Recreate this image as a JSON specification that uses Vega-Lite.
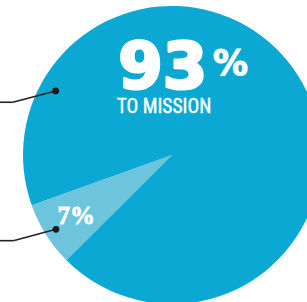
{
  "$schema": "https://vega.github.io/schema/vega-lite/v6.json",
  "width": 307,
  "height": 302,
  "autosize": {"type": "none"},
  "padding": 0,
  "background": "white",
  "config": {"view": {"stroke": null}},
  "data": {
    "values": [
      {"segment": "Other", "value": 7, "label": "7%", "caption": ""},
      {"segment": "To mission", "value": 93, "label": "93", "caption": "TO MISSION"}
    ]
  },
  "layer": [
    {
      "mark": {"type": "arc", "radius": 149},
      "encoding": {
        "theta": {"field": "value", "type": "quantitative", "stack": true, "scale": {"range": [3.929, 10.212]}},
        "order": {"field": "value", "type": "quantitative", "sort": "ascending"},
        "color": {"field": "segment", "type": "nominal", "scale": {"domain": ["Other", "To mission"], "range": ["#6cc5dd", "#0ba8d3"]}, "legend": null},
        "x": {"datum": 0, "type": "quantitative", "scale": {"domain": [-1.1544, 0.906], "nice": false, "zero": false}, "axis": null},
        "y": {"datum": 0, "type": "quantitative", "scale": {"domain": [-0.9866, 1.0403], "nice": false, "zero": false}, "axis": null}
      }
    },
    {
      "transform": [{"filter": "datum.segment === 'To mission'"}],
      "mark": {"type": "text", "font": "DejaVu Sans", "fontWeight": "bold", "fontSize": 64, "color": "white", "stroke": "white", "strokeWidth": 3, "strokeJoin": "round", "align": "center", "baseline": "alphabetic"},
      "encoding": {
        "text": {"field": "label"},
        "x": {"datum": -0.062, "type": "quantitative"},
        "y": {"datum": 0.448, "type": "quantitative"}
      }
    },
    {
      "transform": [{"filter": "datum.segment === 'To mission'"}],
      "mark": {"type": "text", "font": "DejaVu Sans", "fontWeight": "bold", "fontSize": 35, "color": "white", "stroke": "white", "strokeWidth": 1, "align": "center", "baseline": "alphabetic"},
      "encoding": {
        "text": {"value": "%"},
        "x": {"datum": 0.392, "type": "quantitative"},
        "y": {"datum": 0.537, "type": "quantitative"}
      }
    },
    {
      "transform": [{"filter": "datum.segment === 'To mission'"}],
      "mark": {"type": "text", "font": "'Liberation Sans Narrow', 'Roboto Condensed', 'Liberation Sans'", "fontSize": 19.5, "color": "white", "stroke": "white", "strokeWidth": 0.4, "align": "center", "baseline": "alphabetic"},
      "encoding": {
        "text": {"field": "caption"},
        "x": {"datum": -0.054, "type": "quantitative"},
        "y": {"datum": 0.28, "type": "quantitative"}
      }
    },
    {
      "transform": [{"filter": "datum.segment === 'Other'"}],
      "mark": {"type": "text", "font": "'Liberation Serif'", "fontWeight": "bold", "fontSize": 25, "color": "white", "stroke": "white", "strokeWidth": 0.8, "align": "center", "baseline": "alphabetic"},
      "encoding": {
        "text": {"field": "label"},
        "x": {"datum": -0.642, "type": "quantitative"},
        "y": {"datum": -0.465, "type": "quantitative"}
      }
    },
    {
      "transform": [{"filter": "datum.segment === 'To mission'"}],
      "mark": {"type": "rule", "color": "#222222", "strokeWidth": 1.6},
      "encoding": {
        "x": {"datum": -1.16, "type": "quantitative"},
        "x2": {"datum": -1.069},
        "y": {"datum": 0.354, "type": "quantitative"},
        "y2": {"datum": 0.354}
      }
    },
    {
      "transform": [{"filter": "datum.segment === 'To mission'"}],
      "mark": {"type": "rule", "color": "#222222", "strokeWidth": 1.6},
      "encoding": {
        "x": {"datum": -1.069, "type": "quantitative"},
        "x2": {"datum": -0.781},
        "y": {"datum": 0.354, "type": "quantitative"},
        "y2": {"datum": 0.43}
      }
    },
    {
      "transform": [{"filter": "datum.segment === 'To mission'"}],
      "mark": {"type": "point", "filled": true, "color": "#1a1a1a", "opacity": 1, "size": 45},
      "encoding": {
        "x": {"datum": -0.781, "type": "quantitative"},
        "y": {"datum": 0.43, "type": "quantitative"}
      }
    },
    {
      "transform": [{"filter": "datum.segment === 'Other'"}],
      "mark": {"type": "rule", "color": "#222222", "strokeWidth": 1.6},
      "encoding": {
        "x": {"datum": -1.16, "type": "quantitative"},
        "x2": {"datum": -1.065},
        "y": {"datum": -0.575, "type": "quantitative"},
        "y2": {"datum": -0.575}
      }
    },
    {
      "transform": [{"filter": "datum.segment === 'Other'"}],
      "mark": {"type": "rule", "color": "#222222", "strokeWidth": 1.6},
      "encoding": {
        "x": {"datum": -1.065, "type": "quantitative"},
        "x2": {"datum": -0.779},
        "y": {"datum": -0.575, "type": "quantitative"},
        "y2": {"datum": -0.499}
      }
    },
    {
      "transform": [{"filter": "datum.segment === 'Other'"}],
      "mark": {"type": "point", "filled": true, "color": "#1a1a1a", "opacity": 1, "size": 45},
      "encoding": {
        "x": {"datum": -0.779, "type": "quantitative"},
        "y": {"datum": -0.499, "type": "quantitative"}
      }
    }
  ]
}
